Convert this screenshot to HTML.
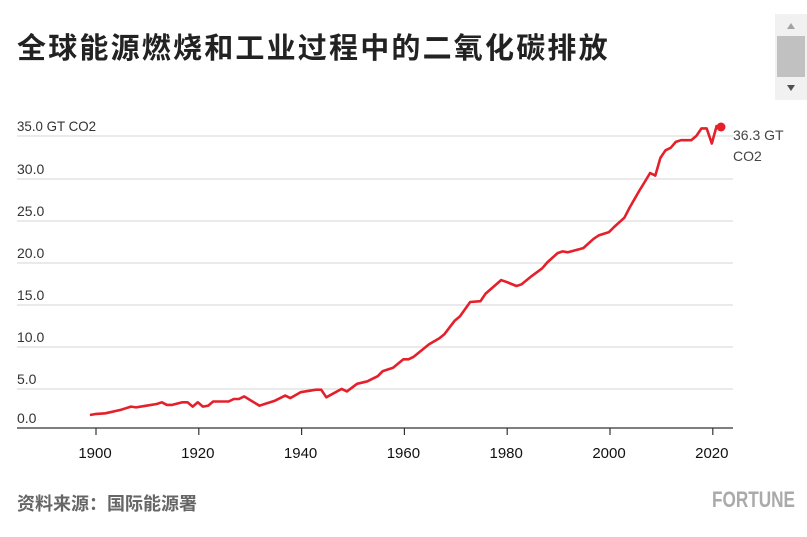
<!DOCTYPE html>
<html><head><meta charset="utf-8"><style>
body{margin:0;background:#fff;width:807px;height:532px;overflow:hidden;font-family:"Liberation Sans","Noto Sans CJK SC",sans-serif}
</style></head><body>
<svg width="807" height="532" xmlns="http://www.w3.org/2000/svg" font-family="Liberation Sans, Noto Sans CJK SC, sans-serif">
<text x="17" y="58" font-size="29" font-weight="bold" fill="#222" letter-spacing="2.2">全球能源燃烧和工业过程中的二氧化碳排放</text>
<rect x="775" y="14" width="32" height="86" fill="#f1f1f1"/>
<rect x="777" y="36" width="28" height="41" fill="#c1c1c1"/>
<path d="M787 29l4-6 4 6z" fill="#a3a3a3"/><path d="M787 85l4 6 4-6z" fill="#505050"/>
<g stroke="#d6d6d6" stroke-width="1">
<line x1="17" x2="733" y1="136" y2="136"/><line x1="17" x2="733" y1="179" y2="179"/>
<line x1="17" x2="733" y1="221" y2="221"/><line x1="17" x2="733" y1="263" y2="263"/>
<line x1="17" x2="733" y1="305" y2="305"/><line x1="17" x2="733" y1="347" y2="347"/>
<line x1="17" x2="733" y1="389" y2="389"/>
</g>
<line x1="17" x2="733" y1="428" y2="428" stroke="#333" stroke-width="1.3"/>
<g fill="#333" font-size="14">
<text x="17" y="131" textLength="79" lengthAdjust="spacingAndGlyphs">35.0 GT CO2</text><text x="17" y="174">30.0</text><text x="17" y="216">25.0</text>
<text x="17" y="258">20.0</text><text x="17" y="300">15.0</text><text x="17" y="342">10.0</text>
<text x="17" y="384">5.0</text><text x="17" y="423">0.0</text>
</g>
<g id="ticks" stroke="#333" stroke-width="1.2"></g>
<g id="tl" fill="#111" font-size="15" text-anchor="middle"></g>
<polyline id="ln" fill="none" stroke="#e4202b" stroke-width="2.6" stroke-linejoin="round"/>
<circle cx="721" cy="127" r="4.5" fill="#e4202b"/>
<text x="733" y="140" font-size="14" fill="#444">36.3 GT</text>
<text x="733" y="161" font-size="14" fill="#444">CO2</text>
<text x="17" y="510" font-size="18" font-weight="bold" fill="#666">资料来源：国际能源署</text>
<text x="712" y="507" font-size="22" font-weight="bold" fill="#aaa" textLength="83" lengthAdjust="spacingAndGlyphs">FORTUNE</text>
</svg>
<script>
var X=function(y){return 95+(y-1900)*5.14},Y=function(v){return 431-8.43*v};
var d=[[1899,1.9],[1900,2.0],[1902,2.1],[1905,2.5],[1907,2.9],[1908,2.8],[1910,3.0],[1912,3.2],[1913,3.4],[1914,3.1],[1915,3.1],[1917,3.4],[1918,3.4],[1919,2.9],[1920,3.4],[1921,2.9],[1922,3.0],[1923,3.5],[1926,3.5],[1927,3.8],[1928,3.8],[1929,4.1],[1932,3.0],[1933,3.2],[1935,3.6],[1937,4.2],[1938,3.9],[1940,4.6],[1943,4.9],[1944,4.9],[1945,4.0],[1948,5.0],[1949,4.7],[1951,5.6],[1953,5.9],[1955,6.5],[1956,7.1],[1958,7.5],[1960,8.5],[1961,8.5],[1962,8.8],[1965,10.3],[1967,11.0],[1968,11.5],[1970,13.1],[1971,13.6],[1973,15.3],[1975,15.4],[1976,16.3],[1979,17.9],[1980,17.7],[1982,17.2],[1983,17.4],[1985,18.4],[1987,19.3],[1988,20.0],[1990,21.1],[1991,21.3],[1992,21.2],[1995,21.7],[1997,22.8],[1998,23.2],[2000,23.6],[2001,24.2],[2003,25.3],[2004,26.5],[2006,28.6],[2007,29.6],[2008,30.6],[2009,30.3],[2010,32.4],[2011,33.3],[2012,33.6],[2013,34.3],[2014,34.5],[2016,34.5],[2017,35.0],[2018,35.9],[2019,35.9],[2020,34.1],[2021,36.3]];
document.getElementById('ln').setAttribute('points',d.map(function(p){return X(p[0]).toFixed(1)+','+Y(p[1]).toFixed(1)}).join(' '));
var t='',l='';for(var y=1900;y<=2020;y+=20){var x=X(y)+1;t+='<line x1="'+x+'" x2="'+x+'" y1="428" y2="435"/>';l+='<text x="'+(x-1)+'" y="458">'+y+'</text>';}
document.getElementById('ticks').innerHTML=t;document.getElementById('tl').innerHTML=l;
</script>
</body></html>
